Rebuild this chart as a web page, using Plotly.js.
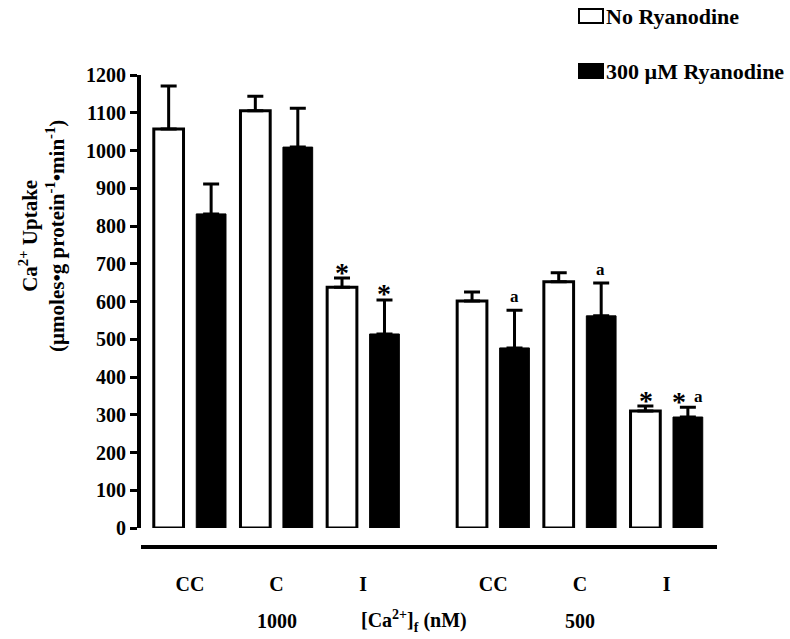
<!DOCTYPE html>
<html>
<head>
<meta charset="utf-8">
<script src="https://cdn.plot.ly/plotly-3.0.1.min.js"></script>
<style>html,body{margin:0;padding:0;background:#fff;}</style>
</head>
<body>
<div id="chart" style="width:790px;height:639px;"></div>
<script>
// ---- data ----
const categories = ['CC', 'C', 'I', 'CC', 'C', 'I'];
const concentration = ['1000', '1000', '1000', '500', '500', '500'];
const noRyanodine = [1057, 1105, 638, 601, 652, 310];
const noRyanodineErr = [114, 39, 24, 24, 24, 13];
const ryanodine = [832, 1009, 514, 477, 562, 294];
const ryanodineErr = [79, 103, 90, 100, 87, 26];
const noRyanodineMarks = ['', '', '*', '', '', '*'];
const ryanodineMarks = ['', '', '*', 'a', 'a', '*a'];
const yTicks = [0, 100, 200, 300, 400, 500, 600, 700, 800, 900, 1000, 1100, 1200];
const seriesNames = ['No Ryanodine', '300 \u00b5M Ryanodine'];

// ---- layout helpers ----
const W = 790, H = 639;
const M = {l: 141, r: 73, t: 75, b: 92};
const plotW = W - M.l - M.r, plotH = H - M.t - M.b;
const px = x => (x - M.l) / plotW;
const py = y => (H - M.b - y) / plotH;
const FONT = 'Liberation Serif, Times New Roman, serif';
const bold = (size) => ({family: FONT, size: size, color: '#000', weight: 'bold'});

// category positions with an extra half-step gap between concentration groups
let g = 0;
const pos = categories.map((c, i) => {
  if (i > 0 && concentration[i] !== concentration[i - 1]) g++;
  return i + g * 0.5;
});
const groups = [...new Set(concentration)];
const groupCenter = grp => {
  const p = pos.filter((_, i) => concentration[i] === grp);
  return p.reduce((a, b) => a + b, 0) / p.length;
};

const traces = [
  {
    type: 'bar', name: seriesNames[0], x: pos, y: noRyanodine,
    marker: {color: '#ffffff', line: {color: '#000', width: 3}},
    error_y: {type: 'data', symmetric: false, array: noRyanodineErr,
              arrayminus: noRyanodineErr.map(() => 0), color: '#000', thickness: 3, width: 8},
    hoverinfo: 'skip'
  },
  {
    type: 'bar', name: seriesNames[1], x: pos, y: ryanodine,
    marker: {color: '#000000', line: {color: '#000', width: 1}},
    error_y: {type: 'data', symmetric: false, array: ryanodineErr,
              arrayminus: ryanodineErr.map(() => 0), color: '#000', thickness: 3, width: 8},
    hoverinfo: 'skip'
  }
];

const annotations = [];
function addMarks(marks, vals, errs, shift) {
  marks.forEach((m, i) => {
    if (!m) return;
    const chars = m.split('');
    chars.forEach((ch, k) => {
      const dx = chars.length > 1 ? (k === 0 ? -9 : 11) : 0;
      const dy = ch === '*' ? 6 : (chars.length > 1 ? 11 : 14);
      annotations.push({
        x: pos[i], y: vals[i] + errs[i], xref: 'x', yref: 'y',
        xshift: shift + dx, xanchor: 'center', yanchor: 'middle',
        yshift: dy, showarrow: false,
        text: ch, font: bold(ch === '*' ? 28 : 17)
      });
    });
  });
}
addMarks(noRyanodineMarks, noRyanodine, noRyanodineErr, -21);
addMarks(ryanodineMarks, ryanodine, ryanodineErr, 21);

// group labels and axis title
groups.forEach(grp => {
  annotations.push({
    x: groupCenter(grp), xref: 'x', y: py(621), yref: 'paper', showarrow: false,
    xanchor: 'center', yanchor: 'middle', text: grp, font: bold(20)
  });
});
annotations.push({
  x: px(414), xref: 'paper', y: py(621), yref: 'paper', showarrow: false,
  xanchor: 'center', yanchor: 'middle',
  text: '[Ca<sup>2+</sup>]<sub>f</sub> (nM)', font: bold(20)
});
// y-axis title
annotations.push({
  x: px(42), xref: 'paper', y: py(236), yref: 'paper', showarrow: false, textangle: -90,
  xanchor: 'center', yanchor: 'middle',
  text: 'Ca<sup>2+</sup> Uptake<br>(\u00b5moles\u2022g protein<sup>-1</sup>\u2022min<sup>-1</sup>)',
  font: bold(21)
});
// legend
const legendRows = [16, 71];
const legendFill = ['#ffffff', '#000000'];
const shapes = [];
seriesNames.forEach((n, k) => {
  shapes.push({
    type: 'rect', xref: 'paper', yref: 'paper',
    x0: px(579), x1: px(603), y0: py(legendRows[k] + 7), y1: py(legendRows[k] - 7),
    fillcolor: legendFill[k], line: {color: '#000', width: 2}
  });
  annotations.push({
    x: px(604), xref: 'paper', y: py(legendRows[k]), yref: 'paper', showarrow: false,
    xanchor: 'left', yanchor: 'middle', text: n, font: bold(22)
  });
});

const layout = {
  width: W, height: H, margin: M,
  paper_bgcolor: '#fff', plot_bgcolor: '#fff',
  showlegend: false,
  barmode: 'group', bargap: 0.02, bargroupgap: 0.3,
  xaxis: {
    range: [-0.564, 6.081], anchor: 'free', position: 0,
    tickmode: 'array', tickvals: pos, ticktext: categories,
    ticks: 'outside', ticklen: 18, tickcolor: 'rgba(0,0,0,0)',
    showline: true, linecolor: '#000', linewidth: 4,
    showgrid: false, zeroline: false,
    tickfont: bold(20)
  },
  yaxis: {
    domain: [19 / plotH, 1], range: [0, 1200],
    tickmode: 'array', tickvals: yTicks,
    ticks: 'outside', ticklen: 7, tickwidth: 3, tickcolor: '#000',
    showline: true, linecolor: '#000', linewidth: 4,
    showgrid: false, zeroline: false,
    tickfont: bold(20)
  },
  annotations: annotations,
  shapes: shapes
};

Plotly.newPlot('chart', traces, layout, {displayModeBar: false, staticPlot: true});
</script>
</body>
</html>
